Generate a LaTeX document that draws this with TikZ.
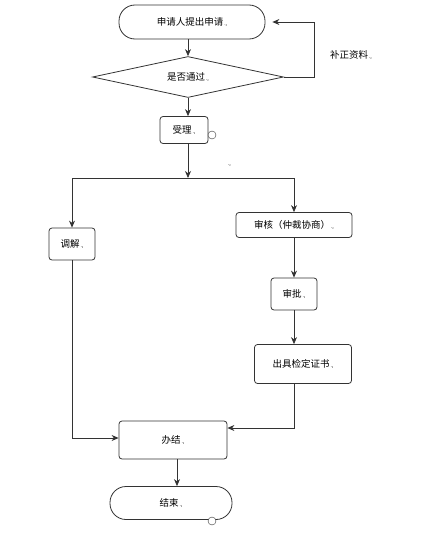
\documentclass[tikz,border=0pt]{standalone}
\usepackage{fontspec}
\newfontfamily\cjk{Noto Sans CJK SC}
\usetikzlibrary{arrows.meta,shapes.geometric}
\newcommand{\pmk}{{\tiny\,.,}}

\begin{document}
\begin{tikzpicture}[x=1pt, y=-1pt,
      box/.style={draw=black!80, rounded corners=3pt, line width=0.8pt,
                  font=\cjk\fontsize{9.5}{11}\selectfont, inner sep=0pt, align=center},
      term/.style={box, rounded corners=16pt},
      dec/.style={draw=black!80, diamond, line width=0.8pt, aspect=4,
                  minimum width=191pt, minimum height=41pt, inner sep=0pt,
                  font=\cjk\fontsize{9.5}{11}\selectfont},
      anchormark/.style={draw=black!80, circle, fill=white, minimum size=8pt, inner sep=0pt},
      lbl/.style={font=\cjk\fontsize{9.5}{11}\selectfont, inner sep=0pt},
      arr/.style={-{Stealth[length=7pt,width=6pt]}, line width=0.8pt, color=black!80}
  ]
    \useasboundingbox (0,0) rectangle (440,546);
    \node[term, minimum width=146pt, minimum height=34pt] (apply) at (192,22) {申请人提出申请\pmk};
    \node[dec] (pass) at (188,77) {是否通过\pmk};
    \node[box, minimum width=48pt, minimum height=27pt] (accept) at (184,130) {受理\pmk};
    \node[box, minimum width=46pt, minimum height=32pt] (mediate) at (72,244) {调解\pmk};
    \node[box, minimum width=116pt, minimum height=25pt] (review) at (294,225) {审核（仲裁协商）\pmk};
    \node[box, minimum width=46pt, minimum height=32pt] (approve) at (294,294) {审批\pmk};
    \node[box, minimum width=97pt, minimum height=39pt] (cert) at (303,364) {出具检定证书\pmk};
    \node[box, minimum width=108pt, minimum height=38pt] (close) at (173,440) {办结\pmk};
    \node[term, minimum width=122pt, minimum height=33pt] (finish) at (171,503) {结束\pmk};
    \node[lbl] (fix) at (351,55) {补正资料\pmk};
    \node[lbl] (stray) at (229,166) {\pmk};
    \coordinate (split) at (188,178);
    % main line
    \draw[arr] (pass.north |- apply.south) -- (pass.north);
    \draw[arr, shorten >=7pt] (pass.east) -- ++(30,0) |- (apply.east);
    \draw[arr] (pass.south) -- (pass.south |- accept.north);
    \draw[arr] (split |- accept.south) -- (split);
    \draw[arr] (split) -| (mediate.north);
    \draw[arr] (split) -| (review.north);
    \draw[arr] (review.south) -- (review.south |- approve.north);
    \draw[arr] (review.south |- approve.south) -- (review.south |- cert.north);
    \draw[arr] (review.south |- cert.south) |- ([yshift=12pt]close.east);
    \draw[arr] (mediate.south) |- ([yshift=2pt]close.west);
    \draw[arr] ([xshift=4pt]close.south) -- ([xshift=4pt]close.south |- finish.north);
    % anchor marks
    \node[anchormark] (mark1) at (212,135) {};
    \node[anchormark] (mark2) at (212,521) {};
\end{tikzpicture}
\end{document}
